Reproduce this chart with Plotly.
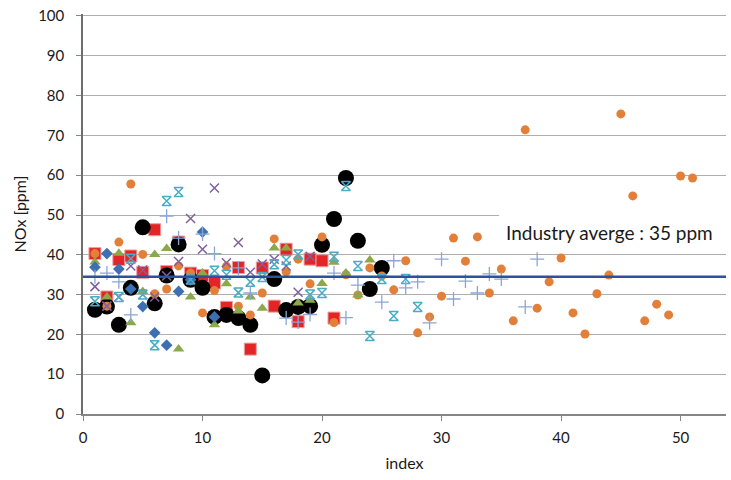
import plotly.graph_objects as go

# ---- data (index -> NOx ppm) ----
diamond_x = [1, 2, 3, 4, 5, 6, 7, 8, 9, 10, 11]
diamond_y = [36.9, 40.3, 36.4, 31.4, 27.0, 20.4, 17.3, 30.8, 33.7, 45.7, 24.4]

square_x = list(range(1, 22))
square_y = [40.3, 29.4, 38.8, 39.7, 35.6, 46.3, 35.8, 43.2, 35.4, 34.8, 32.9,
            26.8, 36.8, 16.3, 36.7, 27.1, 41.4, 23.2, 38.9, 38.5, 24.1]

triangle_x = list(range(1, 25))
triangle_y = [38.2, 29.4, 40.4, 22.9, 30.8, 40.1, 41.6, 16.3, 29.4, 35.4, 22.4, 32.7,
              25.9, 29.4, 26.6, 41.7, 41.7, 27.9, 28.6, 32.8, 38.1, 35.4, 29.9, 38.7]

xmark_x = list(range(1, 20))
xmark_y = [32.0, 27.1, 29.4, 37.2, 36.2, 29.4, 34.7, 38.3, 49.1, 41.4, 56.8, 38.0,
           43.1, 35.6, 37.7, 38.9, 37.2, 30.6, 39.6]

star_x = [1, 3, 4, 5, 6, 7, 8, 9, 11, 12, 13, 14, 15, 16, 17, 18, 19, 20, 21, 22,
          23, 24, 25, 26, 27, 28]
star_y = [28.3, 29.4, 39.0, 30.0, 17.3, 53.5, 55.8, 33.8, 36.0, 35.0, 30.5, 33.2,
          34.4, 37.6, 38.7, 40.1, 30.0, 30.4, 39.5, 57.3, 37.2, 19.6, 33.9, 24.6,
          33.9, 26.9]

circle_x = list(range(1, 52))
circle_y = [40.3, 27.1, 43.2, 57.8, 40.1, 30.2, 31.4, 37.2, 35.4, 25.4, 31.0, 37.1,
            27.1, 24.9, 30.4, 44.0, 35.7, 38.9, 32.7, 44.5, 23.0, 35.0, 29.9, 36.7,
            34.7, 31.2, 38.5, 20.4, 24.4, 29.6, 44.2, 38.4, 44.5, 30.4, 36.4, 23.4,
            71.4, 26.6, 33.2, 39.2, 25.4, 20.1, 30.2, 34.9, 75.4, 54.8, 23.4, 27.6,
            24.9, 59.8, 59.3]

plus_x = [1, 2, 3, 4, 7, 8, 10, 11, 13, 14, 17, 18, 19, 21, 22, 23, 25, 26, 27, 28,
          29, 30, 31, 32, 33, 34, 35, 37, 38]
plus_y = [34.5, 35.4, 33.2, 24.9, 49.7, 44.2, 45.2, 40.3, 36.7, 30.4, 24.1, 23.1,
          25.0, 35.4, 24.2, 32.4, 28.1, 38.5, 31.7, 33.2, 22.9, 38.9, 28.9, 33.4,
          30.4, 35.2, 33.9, 26.9, 38.9]

black_x = list(range(1, 26))
black_y = [26.2, 27.0, 22.4, 31.7, 46.9, 27.8, 34.8, 42.6, 33.7, 31.7, 24.4, 24.9,
           24.1, 22.4, 9.7, 33.9, 26.1, 26.9, 27.1, 42.5, 49.0, 59.3, 43.5, 31.4, 36.7]

industry_avg = 34.5
avg_label = "Industry averge : 35 ppm"
x_max = 53.8
y_max = 100.5

fig = go.Figure()

fig.add_trace(go.Scatter(x=square_x, y=square_y, mode="markers",
                         marker=dict(symbol="square", size=12, color="#E42527",
                                     line=dict(color="#E8A0A0", width=1))))
fig.add_trace(go.Scatter(x=black_x, y=black_y, mode="markers",
                         marker=dict(symbol="circle", size=16, color="#000000")))
fig.add_trace(go.Scatter(x=circle_x, y=circle_y, mode="markers",
                         marker=dict(symbol="circle", size=9, color="#E2803A")))
fig.add_trace(go.Scatter(x=triangle_x, y=triangle_y, mode="markers",
                         marker=dict(symbol="triangle-up", size=10, color="#8BA94B")))
fig.add_trace(go.Scatter(x=diamond_x, y=diamond_y, mode="markers",
                         marker=dict(symbol="diamond", size=9, color="#3D70B2")))
fig.add_trace(go.Scatter(x=xmark_x, y=xmark_y, mode="markers",
                         marker=dict(symbol="x-thin-open", size=9, color="#7D60A0",
                                     line=dict(color="#7D60A0", width=1.5))))
fig.add_trace(go.Scatter(x=star_x, y=star_y, mode="markers",
                         marker=dict(symbol="hourglass-open", size=9, color="#4BACC6",
                                     line=dict(color="#4BACC6", width=1.5))))
fig.add_trace(go.Scatter(x=plus_x, y=plus_y, mode="markers",
                         marker=dict(symbol="cross-thin-open", size=10, color="#8AA6D6",
                                     line=dict(color="#8AA6D6", width=1.3))))

# industry average line
fig.add_trace(go.Scatter(x=[0, x_max], y=[industry_avg, industry_avg], mode="lines",
                         line=dict(color="#2F4F9F", width=2.5), hoverinfo="skip"))

# white label box covering gridlines
fig.add_shape(type="rect", xref="x", yref="y", x0=34.8, x1=x_max, y0=40.45, y1=50.25,
              fillcolor="white", line=dict(width=0), layer="between")
fig.add_annotation(x=44.06, y=45.5, xref="x", yref="y", text=avg_label,
                   showarrow=False, xanchor="center", yanchor="middle",
                   font=dict(size=19, color="#1A1A1A"))

fig.update_layout(
    width=731, height=480,
    margin=dict(l=83, r=5, t=14, b=66, autoexpand=False),
    paper_bgcolor="white", plot_bgcolor="white",
    showlegend=False,
    font=dict(family="Lato, Open Sans, sans-serif", size=16, color="#1A1A1A"),
)
fig.update_xaxes(range=[0, x_max], tickvals=[0, 10, 20, 30, 40, 50],
                 showgrid=False, zeroline=False, automargin=False,
                 showline=True, linecolor="#868686", linewidth=1.5,
                 ticks="outside", ticklen=5, tickcolor="#868686",
                 tickfont=dict(size=15),
                 ticklabelstandoff=4, ticklabeloverflow="allow",
                 title=dict(text="index", font=dict(size=16), standoff=13))
fig.update_yaxes(range=[0, y_max], tickvals=[0, 10, 20, 30, 40, 50, 60, 70, 80, 90, 100],
                 automargin=False,
                 showgrid=True, gridcolor="#AEAEAE", gridwidth=1,
                 zeroline=False,
                 showline=True, linecolor="#6E6E6E", linewidth=1.5,
                 ticks="outside", ticklen=5, tickcolor="#868686",
                 tickfont=dict(size=15),
                 ticklabelstandoff=9, ticklabeloverflow="allow",
                 title=dict(text="NOx [ppm]", font=dict(size=16), standoff=8))

fig.write_html("out.html", config={"displayModeBar": False},
               post_script="document.body.style.margin='0';document.body.style.overflow='hidden';")
